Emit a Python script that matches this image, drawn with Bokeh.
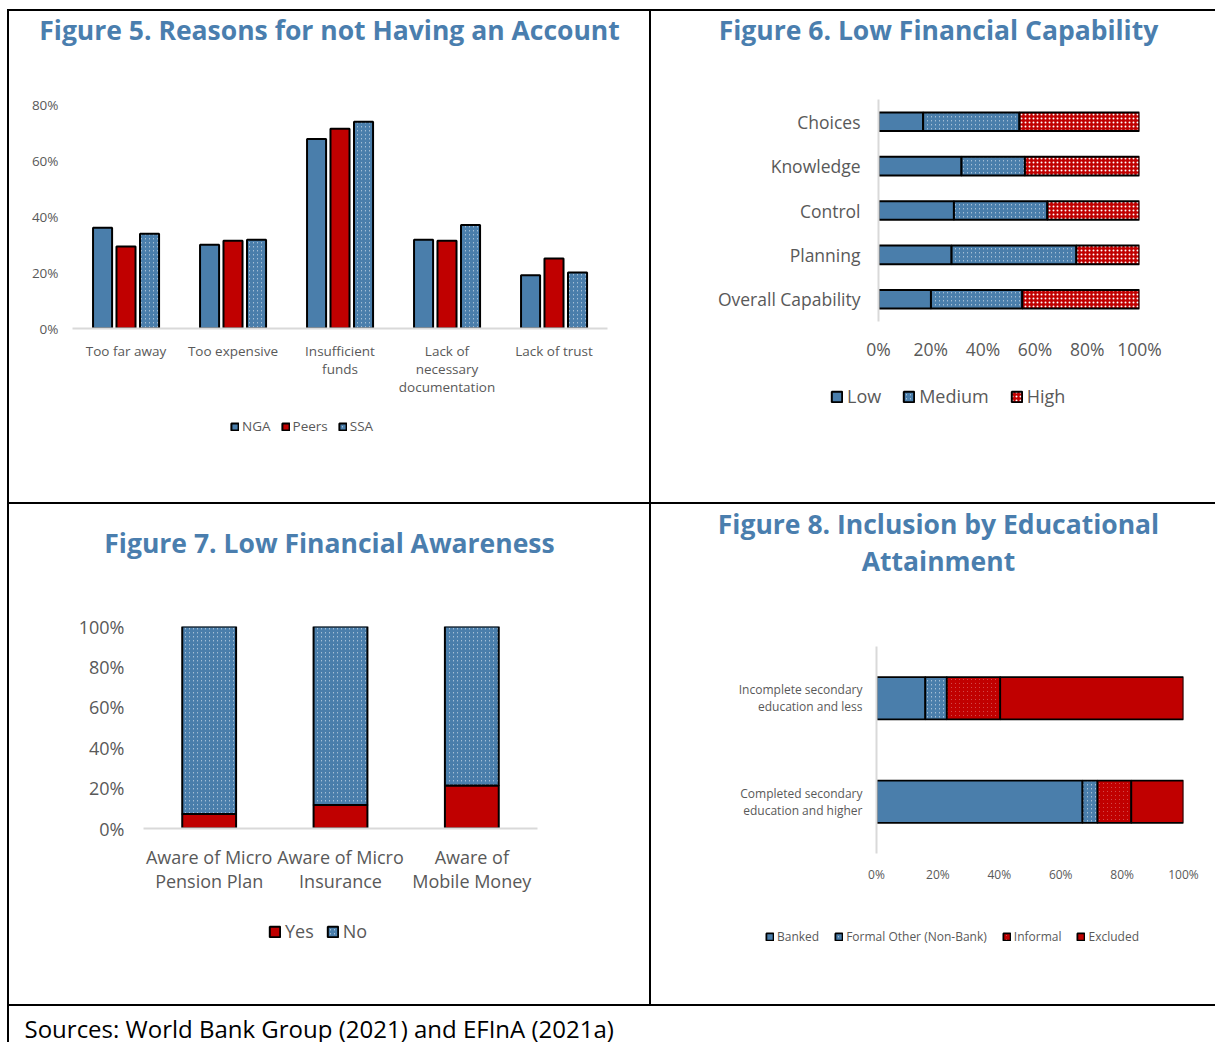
from bokeh.plotting import figure
from bokeh.models import (ColumnDataSource, FactorRange, Range1d, Legend, LegendItem, Label,
                          NumeralTickFormatter, FixedTicker, Spacer)
from bokeh.layouts import row, column
from bokeh.transform import dodge
from bokeh.embed import file_html
from bokeh.resources import INLINE

BLUE = "#4A7EAB"
BLUE_TINT = "#B3C9DD"
RED = "#C00000"
RED_TINT = "#F0C4C4"
TITLE_BLUE = "#4A7EAE"
GRAY = "#595959"
AXIS_GRAY = "#D9D9D9"
FONT = "Open Sans"

# ---------------- data ----------------
# Figure 5
REASONS = ["Too far away", "Too expensive", "Insufficient\nfunds",
           "Lack of\nnecessary\ndocumentation", "Lack of trust"]
NGA = [0.360, 0.299, 0.677, 0.317, 0.190]
PEERS = [0.293, 0.313, 0.713, 0.313, 0.250]
SSA = [0.338, 0.317, 0.738, 0.370, 0.200]
Y5_TICKS = [0, 0.2, 0.4, 0.6, 0.8]

# Figure 6
CAP_CATS = ["Choices", "Knowledge", "Control", "Planning", "Overall Capability"]
CAP_LOW = [0.171, 0.318, 0.289, 0.280, 0.201]
CAP_MED = [0.369, 0.243, 0.358, 0.478, 0.350]
CAP_HIGH = [0.460, 0.439, 0.353, 0.242, 0.449]
X6_TICKS = [0, 0.2, 0.4, 0.6, 0.8, 1.0]

# Figure 7
AWARE_CATS = ["Aware of Micro\nPension Plan", "Aware of Micro\nInsurance", "Aware of\nMobile Money"]
YES = [0.072, 0.116, 0.213]
NO = [0.928, 0.884, 0.787]
Y7_TICKS = [0, 0.2, 0.4, 0.6, 0.8, 1.0]

# Figure 8
EDU_CATS = ["Incomplete secondary\neducation and less", "Completed secondary\neducation and higher"]
BANKED = [0.159, 0.671]
FORMAL = [0.070, 0.049]
INFORMAL = [0.174, 0.110]
EXCLUDED = [0.597, 0.170]
X8_TICKS = [0, 0.2, 0.4, 0.6, 0.8, 1.0]

SOURCES = "Sources: World Bank Group (2021) and EFInA (2021a)"

src5 = ColumnDataSource(dict(cat=REASONS, NGA=NGA, Peers=PEERS, SSA=SSA))
src6 = ColumnDataSource(dict(cat=CAP_CATS, Low=CAP_LOW, Medium=CAP_MED, High=CAP_HIGH))
src7 = ColumnDataSource(dict(cat=AWARE_CATS, Yes=YES, No=NO))
src8 = ColumnDataSource(dict(cat=EDU_CATS, Banked=BANKED, Formal=FORMAL, Informal=INFORMAL, Excluded=EXCLUDED))


# ---------------- helpers ----------------
def chart(w, h, l, r, t, b, **kw):
    p = figure(width=w, height=h, output_backend="svg", toolbar_location=None,
               min_border_left=l, min_border_right=r, min_border_top=t, min_border_bottom=b,
               frame_align=False, **kw)
    p.outline_line_color = None
    p.grid.visible = False
    p.background_fill_color = "white"
    p.border_fill_color = "white"
    return p


def blank(w, h, x_range=None, y_range=None):
    p = figure(width=w, height=h, output_backend="svg", toolbar_location=None,
               x_range=x_range if x_range is not None else Range1d(0, 1),
               y_range=y_range if y_range is not None else Range1d(0, 1),
               x_axis_location=None, y_axis_location=None, min_border=0, frame_align=False)
    p.outline_line_color = None
    p.grid.visible = False
    return p


def style_axis(ax, size, standoff, line=False, lh=1.2):
    ax.major_tick_line_color = None
    ax.minor_tick_line_color = None
    ax.major_tick_in = 0
    ax.major_tick_out = 0
    ax.axis_line_color = AXIS_GRAY if line else None
    ax.axis_line_width = 2
    ax.major_label_text_color = GRAY
    ax.major_label_text_font = FONT
    ax.major_label_text_font_size = size
    ax.major_label_standoff = standoff
    ax.major_label_text_line_height = lh


def title_fig(w, h, lines):
    p = blank(w, h)
    for text, x, y in lines:
        p.add_layout(Label(x=x, y=y, x_units="screen", y_units="screen", text=text,
                           text_align="center", text_baseline="middle", text_font=FONT,
                           text_font_style="bold", text_font_size="26.5px", text_color=TITLE_BLUE))
    return p


def legend_fig(w, h, draw, labels, loc, size, glyph, standoff, spacing, **ranges):
    p = blank(w, h, **ranges)
    rs = draw(p, visible=False)
    p.add_layout(Legend(items=[LegendItem(label=n, renderers=[r]) for n, r in zip(labels, rs)],
                        location=loc, orientation="horizontal",
                        border_line_color=None, background_fill_alpha=0, padding=0, margin=0,
                        spacing=spacing, label_standoff=standoff, glyph_width=glyph, glyph_height=glyph,
                        label_height=glyph, label_text_font=FONT, label_text_font_size=size,
                        label_text_color=GRAY))
    return p


# ---------------- glyph drawing ----------------
def draw5(p, **extra):
    common = dict(width=0.178, source=src5, line_color="black", line_width=2, **extra)
    r1 = p.vbar(x=dodge("cat", -0.219, range=p.x_range), top="NGA", fill_color=BLUE, **common)
    r2 = p.vbar(x=dodge("cat", 0.0, range=p.x_range), top="Peers", fill_color=RED, **common)
    r3 = p.vbar(x=dodge("cat", 0.22, range=p.x_range), top="SSA", fill_color=BLUE_TINT,
                hatch_pattern="/", hatch_color=BLUE, hatch_scale=4, hatch_weight=2, **common)
    return [r1, r2, r3]


def draw6(p, **extra):
    return p.hbar_stack(["Low", "Medium", "High"], y="cat", height=0.42, source=src6,
                        fill_color=[BLUE, BLUE_TINT, RED], hatch_pattern=[" ", "/", "."],
                        hatch_color=[BLUE, BLUE, "white"], hatch_scale=[6, 4, 4],
                        hatch_weight=[1, 2, 1.8], line_color="black", line_width=2, **extra)


def draw7(p, **extra):
    return p.vbar_stack(["Yes", "No"], x="cat", width=0.41, source=src7,
                        fill_color=[RED, BLUE_TINT], hatch_pattern=[" ", "/"], hatch_color=[RED, BLUE],
                        hatch_scale=[5, 4], hatch_weight=[1, 2], line_color="black", line_width=2, **extra)


def draw8(p, **extra):
    return p.hbar_stack(["Banked", "Formal", "Informal", "Excluded"], y="cat", height=0.41, source=src8,
                        fill_color=[BLUE, BLUE_TINT, RED_TINT, RED], hatch_pattern=[" ", "/", "\\", " "],
                        hatch_color=[BLUE, BLUE, RED, RED], hatch_scale=[5, 4, 4, 5],
                        hatch_weight=[1, 2, 2, 1], line_color="black", line_width=1.8, **extra)


# ---------------- Figure 5 (cell 640 x 491) ----------------
t5 = title_fig(640, 75, [("Figure 5. Reasons for not Having an Account", 320, 57)])
p5 = chart(640, 326, 63, 42, 18, 84, x_range=FactorRange(factors=REASONS), y_range=Range1d(0, 0.8))
draw5(p5)
style_axis(p5.xaxis[0], "13.5px", 13, line=True, lh=1.02)
style_axis(p5.yaxis[0], "13.5px", 14)
p5.yaxis.ticker = FixedTicker(ticks=Y5_TICKS)
p5.yaxis.formatter = NumeralTickFormatter(format="0%")
l5 = legend_fig(640, 90, draw5, ["NGA", "Peers", "SSA"], (221, 67), "13.5px", 9, 3, 10,
                x_range=FactorRange(factors=REASONS))
cell5 = column(t5, p5, l5)

# ---------------- Figure 6 (cell 564 x 491) ----------------
t6 = title_fig(564, 69, [("Figure 6. Low Financial Capability", 287, 51)])
p6 = chart(564, 295, 227, 76, 19, 54, x_range=Range1d(0, 1), y_range=FactorRange(factors=CAP_CATS[::-1]))
draw6(p6)
style_axis(p6.yaxis[0], "17.5px", 18, line=True)
style_axis(p6.xaxis[0], "17.5px", 15)
p6.xaxis.ticker = FixedTicker(ticks=X6_TICKS)
p6.xaxis.formatter = NumeralTickFormatter(format="0%")
l6 = legend_fig(564, 127, draw6, ["Low", "Medium", "High"], (179, 94), "18px", 13, 4, 21,
                y_range=FactorRange(factors=CAP_CATS[::-1]))
cell6 = column(t6, p6, l6)

# ---------------- Figure 7 (cell 640 x 500) ----------------
t7 = title_fig(640, 96, [("Figure 7. Low Financial Awareness", 320, 58)])
p7 = chart(640, 305, 134, 112, 26, 77, x_range=FactorRange(factors=AWARE_CATS), y_range=Range1d(0, 1))
draw7(p7)
style_axis(p7.xaxis[0], "18px", 16, line=True, lh=1.02)
style_axis(p7.yaxis[0], "18px", 19)
p7.yaxis.ticker = FixedTicker(ticks=Y7_TICKS)
p7.yaxis.formatter = NumeralTickFormatter(format="0%")
l7 = legend_fig(640, 99, draw7, ["Yes", "No"], (259, 61), "18px", 13, 4, 12,
                x_range=FactorRange(factors=AWARE_CATS))
cell7 = column(t7, p7, l7)

# ---------------- Figure 8 (cell 564 x 500) ----------------
t8 = title_fig(564, 116, [("Figure 8. Inclusion by Educational", 287, 97), ("Attainment", 287, 60)])
p8 = chart(564, 275, 225, 32, 26, 42, x_range=Range1d(0, 1), y_range=FactorRange(factors=EDU_CATS[::-1]))
draw8(p8)
style_axis(p8.yaxis[0], "12px", 14, line=True, lh=1.0)
style_axis(p8.xaxis[0], "12px", 12)
p8.xaxis.ticker = FixedTicker(ticks=X8_TICKS)
p8.xaxis.formatter = NumeralTickFormatter(format="0%")
l8 = legend_fig(564, 109, draw8, ["Banked", "Formal Other (Non-Bank)", "Informal", "Excluded"],
                (114, 59), "12px", 9, 3, 15, y_range=FactorRange(factors=EDU_CATS[::-1]))
cell8 = column(t8, p8, l8)

# ---------------- Sources ----------------
ps = blank(1206, 36)
ps.add_layout(Label(x=15, y=14, x_units="screen", y_units="screen", text=SOURCES,
                    text_font=FONT, text_font_size="24px", text_color="black",
                    text_baseline="alphabetic"))


def black(w, h):
    return Spacer(width=w, height=h, styles={"background-color": "black"})


def white(w, h):
    return Spacer(width=w, height=h)


page = column(
    white(1215, 9),
    row(white(7, 2), black(1208, 2)),
    row(white(7, 491), black(2, 491), cell5, black(2, 491), cell6),
    row(white(7, 2), black(1208, 2)),
    row(white(7, 500), black(2, 500), cell7, black(2, 500), cell8),
    row(white(7, 2), black(1208, 2)),
    row(white(7, 36), black(2, 36), ps),
)

open("out.html", "w").write(file_html(page, INLINE, title="Figures 5-8"))
